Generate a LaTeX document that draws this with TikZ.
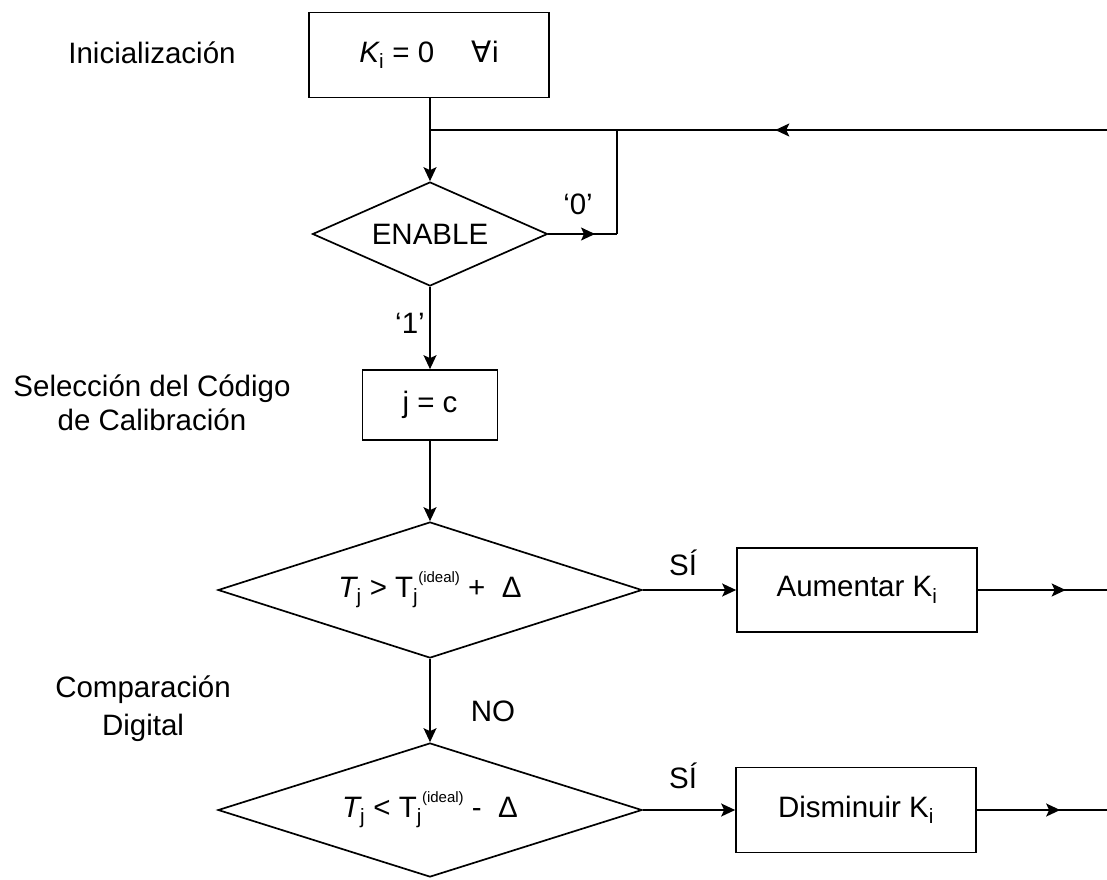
\documentclass[tikz,border=0pt]{standalone}
\usepackage{fontspec}
\setmainfont{Liberation Sans}
\newfontfamily\dejavu{DejaVu Sans}
\usetikzlibrary{shapes.geometric,arrows.meta,decorations.markings}
\newcommand{\tideal}{T\textsubscript{j}\raisebox{0.5em}{\fontsize{15}{15}\selectfont(ideal)}}
\begin{document}
\begin{tikzpicture}[x=1pt,y=-1pt,
  font=\fontsize{29.5}{35}\selectfont,
  line width=1.7pt,
  box/.style={draw,rectangle,inner sep=0pt},
  dia/.style={draw,diamond,inner sep=0pt},
  arr/.style={-{Stealth[length=14pt,width=13pt,inset=3pt]}},
  midarr/.style={postaction={decorate},decoration={markings,mark=at position #1 with {\arrow{Stealth[length=14pt,width=13pt,inset=3pt]}}}},
  lbl/.style={align=center,inner sep=0pt}
]
\useasboundingbox (0,0) rectangle (1107,879);

% nodes
\node[box,minimum width=240pt,minimum height=85pt] (init) at (429,55) {{\itshape K}\textsubscript{i} = 0 \quad {\dejavu ∀}i};
\node[lbl] (tinit) at (152,53) {Inicialización};
\node[dia,minimum width=235pt,minimum height=104pt,aspect=2.26] (en) at (430,234) {ENABLE};
\node[box,minimum width=135pt,minimum height=70pt] (jc) at (430,405) {j = c};
\node[lbl,font=\fontsize{29.5}{34}\selectfont] (tsel) at (152,403) {Selección del Código\\de Calibración};
\node[dia,minimum width=424pt,minimum height=136pt,aspect=3.1] (c1) at (430,590)
  {{\itshape T}\textsubscript{j} > \tideal{} + \ Δ};
\node[box,minimum width=240pt,minimum height=84pt] (inc) at (857,590) {Aumentar K\textsubscript{i}};
\node[lbl,font=\fontsize{29.5}{38}\selectfont] (tcmp) at (143,709) {Comparación\\Digital};
\node[dia,minimum width=424pt,minimum height=134pt,aspect=3.1] (c2) at (430,810)
  {{\itshape T}\textsubscript{j} < \tideal{} - \ Δ};
\node[box,minimum width=240pt,minimum height=85pt] (dec) at (856,810) {Disminuir K\textsubscript{i}};

% label nodes
\node[lbl] (l0) at (578,204) {‘0’};
\node[lbl] (l1) at (410,323) {‘1’};
\node[lbl] (ls1) at (683,563) {SÍ};
\node[lbl] (lno) at (493,711) {NO};
\node[lbl] (ls2) at (683,776) {SÍ};

% coordinates
\coordinate (j) at (430,130);
\coordinate (tr) at (1107,130);
\coordinate (ek) at (617,130);
\coordinate (eb) at (617,234);
\coordinate (r1) at (1107,590);
\coordinate (r2) at (1107,810);

% connectors
\draw (init.south -| j) -- (j);
\draw[arr] (j) -- (en.north);
\draw[midarr=0.49] (tr) -- (j);
\draw (ek) -- (eb);
\draw[midarr=0.68] (en.east) -- (eb);
\draw[arr] (en.south) -- (jc.north);
\draw[arr] (jc.south) -- (c1.north);
\draw[arr] (c1.east) -- (inc.west);
\draw[midarr=0.68] (inc.east) -- (r1);
\draw[arr] (c1.south) -- (c2.north);
\draw[arr] (c2.east) -- (dec.west);
\draw[midarr=0.64] (dec.east) -- (r2);
\end{tikzpicture}
\end{document}
